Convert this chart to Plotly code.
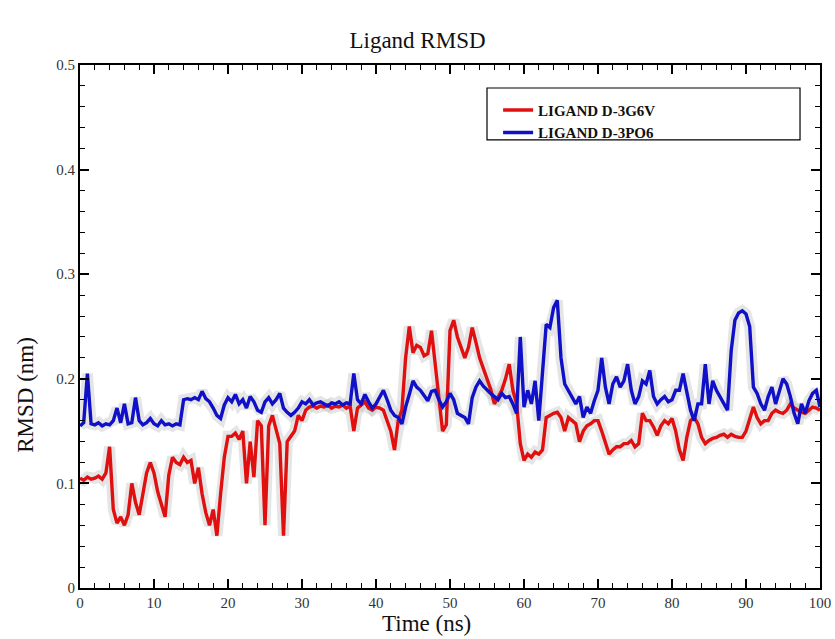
import plotly.graph_objects as go

# Time axis (ns), 0.5 ns sampling
time_ns = [i * 0.5 for i in range(201)]

# LIGAND D-3PO6 (blue) RMSD, nm
rmsd_3po6 = [
    0.155, 0.158, 0.205, 0.157, 0.156, 0.158, 0.155, 0.157, 0.156, 0.160,
    0.172, 0.158, 0.176, 0.157, 0.158, 0.182, 0.160, 0.156, 0.158, 0.162,
    0.157, 0.155, 0.160, 0.156, 0.157, 0.155, 0.157, 0.156, 0.180, 0.181,
    0.180, 0.182, 0.180, 0.188, 0.181, 0.178, 0.172, 0.165, 0.162, 0.175,
    0.182, 0.178, 0.185, 0.176, 0.180, 0.172, 0.183, 0.178, 0.170, 0.168,
    0.178, 0.182, 0.176, 0.180, 0.186, 0.172, 0.168, 0.165, 0.168, 0.172,
    0.178, 0.176, 0.180, 0.175, 0.177, 0.178, 0.176, 0.174, 0.177, 0.176,
    0.178, 0.175, 0.177, 0.176, 0.205, 0.180, 0.176, 0.185, 0.178, 0.172,
    0.176, 0.182, 0.189, 0.180, 0.170, 0.165, 0.163, 0.157, 0.173, 0.185,
    0.198, 0.192, 0.189, 0.184, 0.179, 0.188, 0.189, 0.180, 0.173, 0.178,
    0.186, 0.180, 0.167, 0.165, 0.163, 0.157, 0.182, 0.192, 0.198, 0.193,
    0.189, 0.186, 0.183, 0.180, 0.186, 0.182, 0.183, 0.176, 0.167, 0.240,
    0.173, 0.189, 0.176, 0.198, 0.160, 0.208, 0.252, 0.249, 0.268, 0.275,
    0.220, 0.195, 0.189, 0.183, 0.176, 0.183, 0.163, 0.173, 0.167, 0.179,
    0.189, 0.220, 0.192, 0.176, 0.195, 0.202, 0.192, 0.198, 0.214, 0.189,
    0.176, 0.183, 0.198, 0.195, 0.208, 0.183, 0.176, 0.180, 0.183, 0.178,
    0.180, 0.189, 0.189, 0.205, 0.189, 0.170, 0.160, 0.176, 0.176, 0.214,
    0.176, 0.198, 0.189, 0.183, 0.176, 0.170, 0.227, 0.256, 0.263, 0.265,
    0.262, 0.250, 0.192, 0.186, 0.176, 0.170, 0.183, 0.192, 0.176, 0.189,
    0.200, 0.195, 0.183, 0.167, 0.157, 0.176, 0.167, 0.179, 0.186, 0.189,
    0.173,
]

# LIGAND D-3G6V (red) RMSD, nm
rmsd_3g6v = [
    0.105, 0.103, 0.106, 0.104, 0.105, 0.107, 0.104, 0.110, 0.135, 0.075,
    0.062, 0.068, 0.060, 0.070, 0.100, 0.082, 0.070, 0.090, 0.110, 0.120,
    0.110, 0.092, 0.080, 0.068, 0.108, 0.125, 0.120, 0.118, 0.125, 0.120,
    0.122, 0.100, 0.115, 0.090, 0.072, 0.060, 0.075, 0.050, 0.090, 0.125,
    0.145, 0.145, 0.148, 0.142, 0.150, 0.100, 0.140, 0.106, 0.160, 0.155,
    0.060, 0.155, 0.165, 0.150, 0.138, 0.050, 0.140, 0.145, 0.150, 0.165,
    0.160, 0.170, 0.173, 0.174, 0.172, 0.174, 0.173, 0.175, 0.172, 0.174,
    0.173, 0.175, 0.172, 0.174, 0.150, 0.172, 0.175, 0.178, 0.172, 0.170,
    0.173, 0.172, 0.170, 0.160, 0.150, 0.132, 0.160, 0.170, 0.220, 0.250,
    0.225, 0.232, 0.230, 0.222, 0.224, 0.246, 0.214, 0.176, 0.150, 0.156,
    0.246, 0.256, 0.240, 0.230, 0.220, 0.230, 0.249, 0.235, 0.220, 0.210,
    0.200, 0.190, 0.176, 0.182, 0.189, 0.200, 0.214, 0.189, 0.176, 0.138,
    0.122, 0.128, 0.125, 0.130, 0.128, 0.132, 0.163, 0.165, 0.167, 0.168,
    0.163, 0.150, 0.163, 0.160, 0.157, 0.140, 0.150, 0.155, 0.157, 0.160,
    0.160, 0.150, 0.138, 0.128, 0.132, 0.135, 0.135, 0.138, 0.138, 0.141,
    0.135, 0.138, 0.167, 0.160, 0.160, 0.154, 0.146, 0.155, 0.160, 0.157,
    0.162, 0.150, 0.132, 0.122, 0.144, 0.160, 0.163, 0.157, 0.144, 0.138,
    0.141, 0.143, 0.144, 0.146, 0.147, 0.144, 0.147, 0.145, 0.144, 0.144,
    0.150, 0.163, 0.173, 0.163, 0.157, 0.160, 0.160, 0.167, 0.170, 0.168,
    0.167, 0.170, 0.176, 0.172, 0.170, 0.168, 0.167, 0.170, 0.173, 0.172,
    0.170,
]

series_names = ["LIGAND D-3G6V", "LIGAND D-3PO6"]
x_ticks = list(range(0, 101, 10))
y_ticks = [0, 0.1, 0.2, 0.3, 0.4, 0.5]
y_tick_text = ["0", "0.1", "0.2", "0.3", "0.4", "0.5"]

FONT = "Liberation Serif, Times New Roman, serif"

fig = go.Figure()

# light grey fluctuation shadow behind each series
for ys in (rmsd_3g6v, rmsd_3po6):
    fig.add_trace(go.Scatter(
        x=time_ns, y=ys, mode="lines",
        line=dict(color="rgba(170,170,170,0.3)", width=11),
        showlegend=False, hoverinfo="skip",
    ))

fig.add_trace(go.Scatter(
    x=time_ns, y=rmsd_3g6v, mode="lines", name=series_names[0],
    line=dict(color="#e01010", width=3.4),
))
fig.add_trace(go.Scatter(
    x=time_ns, y=rmsd_3po6, mode="lines", name=series_names[1],
    line=dict(color="#1010c8", width=3.4),
))

axis_common = dict(
    showline=True, linecolor="black", linewidth=2, mirror="ticks",
    ticks="inside", ticklen=9, tickwidth=1.5, tickcolor="black",
    showgrid=False, zeroline=False, ticklabeloverflow="allow",
    tickfont=dict(family=FONT, size=15, color="#333333"),
)

fig.update_xaxes(
    range=[0, 100], tickvals=x_ticks,
    minor=dict(dtick=2, ticks="inside", ticklen=5, tickwidth=1, tickcolor="black"),
    **axis_common,
)
fig.update_yaxes(
    range=[0, 0.5], tickvals=y_ticks, ticktext=y_tick_text,
    minor=dict(dtick=0.02, ticks="inside", ticklen=5, tickwidth=1, tickcolor="black"),
    **axis_common,
)

fig.update_layout(
    width=835, height=639,
    margin=dict(l=80, r=15, t=65, b=51, autoexpand=False),
    paper_bgcolor="white", plot_bgcolor="white",
    title=dict(text="Ligand RMSD", x=0.5, xanchor="center",
               yref="container", y=1 - 40 / 639, yanchor="middle",
               font=dict(family=FONT, size=23, color="#111111")),
    legend=dict(
        x=0.565, y=0.945, xanchor="left", yanchor="top",
        bgcolor="rgba(0,0,0,0)", borderwidth=0,
        font=dict(family=FONT, size=15, color="#111111", weight="bold"),
        tracegroupgap=0, itemwidth=30,
    ),
    shapes=[dict(type="rect", xref="paper", yref="paper",
                 x0=0.55, x1=0.973, y0=0.857, y1=0.956,
                 line=dict(color="black", width=1.2), fillcolor="rgba(0,0,0,0)")],
    annotations=[
        dict(text="Time (ns)", xref="paper", yref="paper", x=0.468, y=-0.067,
             xanchor="center", yanchor="middle", showarrow=False,
             font=dict(family=FONT, size=23, color="#111111")),
        dict(text="RMSD (nm)", xref="paper", yref="paper", x=-0.074, y=0.37,
             xanchor="center", yanchor="middle", showarrow=False, textangle=-90,
             font=dict(family=FONT, size=23, color="#111111")),
    ],
    showlegend=True,
)

# remove the default page margin so the figure fills the window exactly
fig.write_html("out.html", config={"displayModeBar": False},
               post_script="document.body.style.margin='0';document.body.style.overflow='hidden';")
